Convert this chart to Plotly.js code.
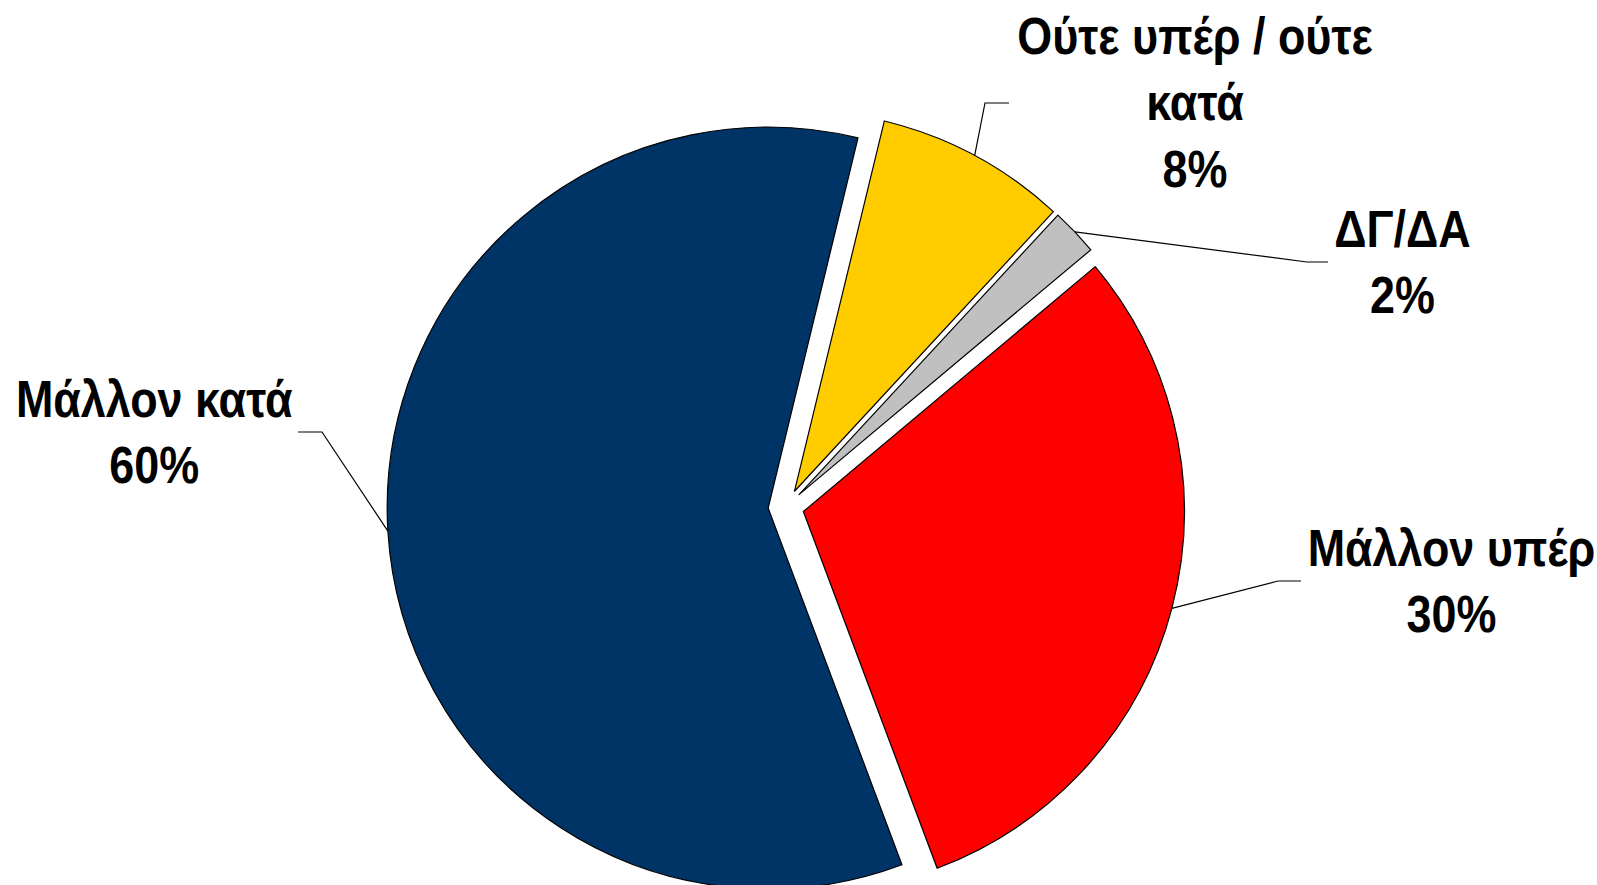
<!DOCTYPE html>
<html><head><meta charset="utf-8">
<script src="https://cdn.plot.ly/plotly-3.0.1.min.js"></script>
<style>
html,body{margin:0;padding:0;background:#fff;}
#wrap{width:1597px;height:885px;overflow:hidden;position:relative;}
#chart{width:1597px;height:910px;}
</style></head><body>
<div id="wrap"><div id="chart"></div></div>
<script>
// ---- data ----
const categories = ["Μάλλον υπέρ", "Μάλλον κατά", "Ούτε υπέρ / ούτε κατά", "ΔΓ/ΔΑ"];
const values = [30.4, 59.5, 8.1, 2.0];
const labelTexts = ["Μάλλον υπέρ", "Μάλλον κατά", "Ούτε υπέρ / ούτε<br>κατά", "ΔΓ/ΔΑ"];

// ---- styles / layout ----
const colors = ["#FF0000", "#003366", "#FFCC00", "#C0C0C0"];
const W = 1597, H = 910;
const PULL = 0.047;
const ROT = 50;
const NARROW = 0.88; // horizontal condensing to mimic a narrow typeface
const FONT = {family: "'Liberation Sans', Arial, sans-serif", size: 51, color: "#000", weight: "bold"};
// label centres (px) and the x where the leader line meets the label
const labelPos = [
  {x: 1451, y: 581, end: 1301, elbow: 1278},
  {x: 154,  y: 432, end: 298,  elbow: 322},
  {x: 1195, y: 103, end: 1009, elbow: 985},
  {x: 1402, y: 262, end: 1328, elbow: 1307}
];

const px = x => x / W;
const py = y => 1 - y / H;

const total = values.reduce((a, b) => a + b, 0);

const trace = {
  type: 'pie',
  labels: categories,
  values: values,
  sort: false,
  direction: 'clockwise',
  rotation: ROT,
  pull: PULL,
  textinfo: 'none',
  hoverinfo: 'none',
  showlegend: false,
  marker: {colors: colors, line: {color: '#000000', width: 1.2}},
  domain: {x: [0.2424, 0.7420], y: [0.0045, 0.8812]}
};

const annotations = categories.map((c, i) => ({
  xref: 'paper', yref: 'paper',
  x: px(labelPos[i].x), y: py(labelPos[i].y),
  xanchor: 'center', yanchor: 'middle',
  text: labelTexts[i] + '<br>' + Math.round(values[i] / total * 100) + '%',
  showarrow: false, align: 'center',
  font: FONT
}));

const layout = {
  width: W, height: H,
  margin: {l: 0, r: 0, t: 0, b: 0},
  paper_bgcolor: '#ffffff',
  plot_bgcolor: '#ffffff',
  showlegend: false,
  annotations: annotations
};

function condense() {
  gd.querySelectorAll('text.annotation-text').forEach(el => {
    const bb = el.getBBox();
    const cx = bb.x + bb.width / 2;
    const base = el.getAttribute('data-base-transform') !== null ? el.getAttribute('data-base-transform') : (el.getAttribute('transform') || '');
    el.setAttribute('data-base-transform', base);
    el.setAttribute('transform', `${base} translate(${cx},0) scale(${NARROW},1) translate(${-cx},0)`.trim());
  });
}

const gd = document.getElementById('chart');
Plotly.newPlot(gd, [trace], layout, {displayModeBar: false, staticPlot: true}).then(() => {
  let cx, cy, r;
  const cd = gd.calcdata && gd.calcdata[0];
  if (cd && cd[0] && cd[0].r) { cx = cd[0].cx; cy = cd[0].cy; r = cd[0].r; }
  else {
    const rx = W * (trace.domain.x[1] - trace.domain.x[0]);
    const ry = H * (trace.domain.y[1] - trace.domain.y[0]);
    r = Math.min(rx, ry) / (2 + 2 * PULL);
    cx = W * (trace.domain.x[0] + trace.domain.x[1]) / 2;
    cy = H * (1 - trace.domain.y[0]) - ry / 2;
  }
  let ang = ROT * Math.PI / 180;
  const shapes = [];
  values.forEach((v, i) => {
    const span = 2 * Math.PI * v / total;
    const mid = ang + span / 2;
    ang += span;
    const dist = r * (1 + PULL);
    const sx = cx + dist * Math.sin(mid);
    const sy = cy - dist * Math.cos(mid);
    const L = labelPos[i];
    shapes.push({
      type: 'path', xref: 'paper', yref: 'paper',
      path: `M ${px(sx)} ${py(sy)} L ${px(L.elbow)} ${py(L.y)} L ${px(L.end)} ${py(L.y)}`,
      line: {color: '#000000', width: 1.2}
    });
  });
  return Plotly.relayout(gd, {shapes: shapes});
}).then(condense);
</script>
</body></html>
